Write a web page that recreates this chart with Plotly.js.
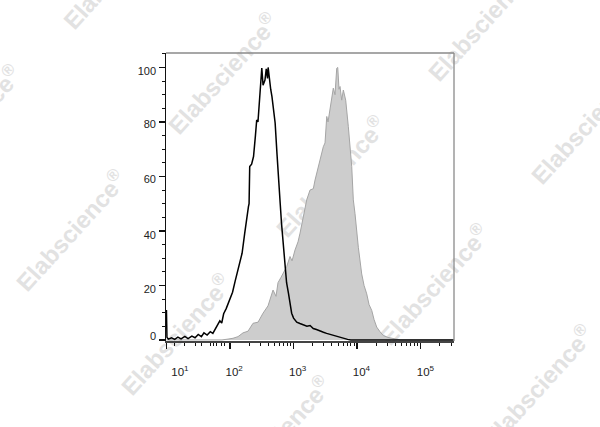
<!DOCTYPE html>
<html>
<head>
<meta charset="utf-8">
<script src="https://cdn.plot.ly/plotly-3.0.1.min.js"></script>
<style>html,body{margin:0;padding:0;background:#fff;}#chart{width:600px;height:427px;}</style>
</head>
<body>
<div id="chart"></div>
<script>
// x values are display positions in decades of the (logicle-style) fluorescence axis
const controlX = [1.000,1.008,1.03,1.08,1.13,1.18,1.23,1.29,1.34,1.40,1.45,1.50,1.55,1.59,1.64,1.69,1.73,1.76,1.79,1.84,1.87,1.90,1.94,1.98,2.00,2.04,2.08,2.12,2.16,2.19,2.23,2.26,2.29,2.30,2.31,2.34,2.37,2.40,2.42,2.44,2.47,2.49,2.50,2.52,2.55,2.57,2.59,2.60,2.62,2.64,2.66,2.69,2.71,2.74,2.76,2.79,2.81,2.84,2.87,2.89,2.92,2.95,2.97,3.00,3.05,3.10,3.15,3.21,3.26,3.31,3.36,3.42,3.47,3.52,3.58,3.63,3.68,3.73,3.78,3.85,3.90,5.52];
const controlY = [11,1.0,0.3,0.8,0.2,1.0,0.4,1.3,0.5,1.4,0.8,2.0,1.2,2.6,1.8,3.0,2.4,3.6,4.8,7.0,6.2,9.6,11.5,13.8,15.5,17.5,21.5,25,29,31.8,38.9,45,48.9,50,63.6,64.5,67.3,75,80.7,80,90.5,94,99.8,93.5,95.4,99.5,96,100,95,92,89.3,84,79.6,68,58.7,50,42.9,34,26.9,21,17.1,13,9.8,8.0,6.5,6.0,5.6,5.0,5.3,4.2,3.8,3.4,2.8,2.4,2.0,1.6,1.2,0.9,0.4,0.2,0,0];

const stainedX = [1.0,1.874,1.969,2.047,2.126,2.205,2.283,2.362,2.441,2.519,2.598,2.677,2.724,2.755,2.803,2.834,2.892,2.944,2.976,3.023,3.070,3.102,3.149,3.207,3.259,3.311,3.338,3.389,3.443,3.468,3.495,3.522,3.542,3.574,3.625,3.652,3.679,3.695,3.715,3.731,3.757,3.783,3.820,3.861,3.888,3.915,3.940,3.967,4.019,4.072,4.109,4.151,4.187,4.230,4.266,4.308,4.360,4.412,4.486,4.570,4.675,5.52];
const stainedY = [0,0,0.3,0.6,1.2,2.6,3.2,6.1,6.5,9.8,12.5,18.3,16,21,23,24.5,26.9,30.6,29,33,36,39.2,45,51.4,55,55.5,58.7,63.7,68.7,70.9,72.3,82,80,84.4,92.4,90,99.7,100,92,93,88,91.7,88,78.4,72.3,63.6,51.4,46.3,34,24.2,20,16.9,13,10.8,7.5,4.7,3,1.6,0.9,0.4,0,0];

const yTicks = [0,20,40,60,80,100];
const yLabels = ['0','20','40','60','80','100'];
const yLabelPos = [1.25,18.5,38.6,59.05,79.2,98.5];
const xMajorTicks = [1.0,2,3,4,5];
const xLabelPos = [1.212,2.065,3.065,4.068,5.075];
const xLabels = ['10<sup>1</sup>','10<sup>2</sup>','10<sup>3</sup>','10<sup>4</sup>','10<sup>5</sup>'];
const xMinorTicks = [1.13,1.29,1.45,1.555,1.69,1.74,1.79,1.86,1.91,
  2.301,2.477,2.602,2.699,2.778,2.845,2.903,2.954,
  3.301,3.477,3.602,3.699,3.778,3.845,3.903,3.954,
  4.301,4.477,4.602,4.699,4.778,4.845,4.903,4.954,
  5.301,5.477];
const watermarkText = 'Elabscience<sup>®</sup>';

// layout geometry (pixels)
const L=166, R=454, T=53, B=341;
const wmEnds = [[20,67],[125,172],[230,276],[330,378],[172,-90],[277,15],[385,118],[488,226],[592,327],[537,-38],[640,65]];
function px(x){return (x-L)/(R-L);}
function py(y){return (B-y)/(B-T);}

const shapes = wmEnds.map(e => ({
  type:'line', xref:'paper', yref:'paper', layer:'below',
  x0:px(e[0]-107), y0:py(e[1]+118), x1:px(e[0]), y1:py(e[1]),
  line:{color:'rgba(0,0,0,0)', width:1},
  label:{text:watermarkText, textposition:'middle', yanchor:'middle', textangle:'auto',
         font:{family:'Arial, Liberation Sans, sans-serif', size:24, weight:'bold', color:'#e2e2e2'}}
}));
shapes.push({type:'line', xref:'paper', yref:'paper', x0:0, x1:1, y0:1, y1:1, line:{color:'#8a8a8a', width:1.3}});
shapes.push({type:'line', xref:'paper', yref:'paper', x0:1, x1:1, y0:0, y1:1, line:{color:'#8a8a8a', width:1.3}});

const traces = [
  {x:stainedX, y:stainedY, type:'scatter', mode:'lines', fill:'tozeroy',
   fillcolor:'#cdcdcd', line:{color:'#a5a5a5', width:1}, hoverinfo:'skip', showlegend:false},
  {x:controlX, y:controlY, type:'scatter', mode:'lines',
   line:{color:'#000000', width:1.5}, hoverinfo:'skip', showlegend:false},
  {x:xLabelPos, y:xLabelPos.map(()=>0), xaxis:'x2', yaxis:'y', type:'scatter', mode:'none', hoverinfo:'skip', showlegend:false},
  {x:yLabelPos.map(()=>2), y:yLabelPos, xaxis:'x', yaxis:'y2', type:'scatter', mode:'none', hoverinfo:'skip', showlegend:false}
];

const tf = (s)=>({family:'Arial, Liberation Sans, sans-serif', size:s, color:'#222'});
const layout = {
  width:600, height:427,
  margin:{l:L, r:600-R, t:T, b:427-B, pad:0},
  paper_bgcolor:'#fff', plot_bgcolor:'rgba(0,0,0,0)',
  font:tf(11), showlegend:false,
  xaxis:{range:[0.993,5.524], showgrid:false, zeroline:false, showline:true, linecolor:'#444', linewidth:1.5,
    tickmode:'array', tickvals:xMajorTicks, ticks:'outside', ticklen:6, tickwidth:1.5, tickcolor:'#111',
    showticklabels:false,
    minor:{tickmode:'array', tickvals:xMinorTicks, ticks:'outside', ticklen:3.5, tickwidth:1, tickcolor:'#111', showgrid:false}},
  xaxis2:{range:[0.993,5.524], overlaying:'x', anchor:'y', side:'bottom', showgrid:false, zeroline:false, showline:false,
    tickmode:'array', tickvals:xLabelPos, ticktext:xLabels, ticks:'', ticklabelstandoff:22, tickfont:tf(11.5)},
  yaxis:{range:[-0.4,105.3], showgrid:false, zeroline:false, showline:true, linecolor:'#111', linewidth:1.5,
    tickmode:'array', tickvals:yTicks, ticks:'outside', ticklen:6, tickwidth:1.6, tickcolor:'#111',
    showticklabels:false,
    minor:{dtick:5, tick0:0, ticks:'outside', ticklen:3, tickwidth:1, tickcolor:'#111', showgrid:false}},
  yaxis2:{range:[-0.4,105.3], overlaying:'y', anchor:'x', side:'left', showgrid:false, zeroline:false, showline:false,
    tickmode:'array', tickvals:yLabelPos, ticktext:yLabels, ticks:'', ticklabelstandoff:9, tickfont:tf(11)},
  shapes:shapes
};
Plotly.newPlot('chart', traces, layout, {displayModeBar:false, staticPlot:true});
</script>
</body>
</html>
